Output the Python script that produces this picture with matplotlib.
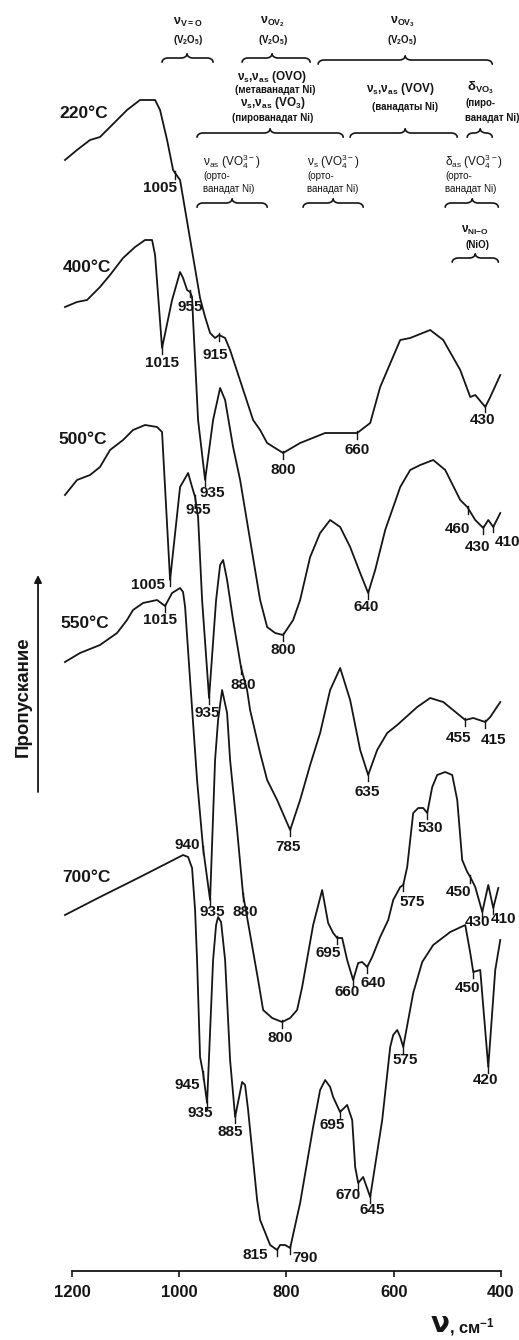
import numpy as np
import matplotlib.pyplot as plt

plt.rcParams['font.family'] = ['Liberation Sans', 'DejaVu Sans']
plt.rcParams['mathtext.default'] = 'regular'

# IR spectra: wavenumber (cm-1) and transmittance (arb. units, curves shifted)
wn_220 = [1213.1, 1190.7, 1166.4, 1147.8, 1129.1, 1097.4, 1073.1, 1045.1, 1035.8, 1022.7,
          1011.5, 1007.8, 998.5, 961.2, 951.8, 942.5, 933.2, 925.7, 914.5, 905.2,
          862.3, 849.2, 836.1, 806.3, 774.6, 727.9, 668.2, 643.9, 625.3, 587.9,
          569.3, 532.0, 507.7, 476.0, 457.3, 448.0, 429.3, 420.0, 401.3]
tr_220 = [111.1, 112.1, 113.1, 113.4, 114.4, 116.1, 117.1, 117.1, 116.1, 113.1,
          110.1, 109.8, 109.1, 97.3, 95.4, 93.8, 93.3, 93.6, 93.3, 92.1,
          85.1, 84.1, 82.8, 81.8, 82.8, 83.8, 83.8, 84.8, 88.4, 93.1,
          93.3, 94.1, 93.1, 90.1, 87.4, 87.6, 86.4, 87.4, 89.6]

wn_400 = [1213.1, 1190.7, 1172.0, 1147.8, 1129.1, 1104.8, 1082.4, 1063.8, 1050.7, 1045.1,
          1032.1, 1013.4, 998.5, 992.9, 985.4, 979.8, 976.1, 974.2, 964.9, 951.8,
          936.9, 923.8, 914.5, 899.6, 886.5, 867.9, 849.2, 836.1, 821.2, 806.3,
          787.6, 774.6, 755.9, 737.3, 718.6, 699.9, 681.3, 662.6, 647.7, 634.6,
          615.9, 587.9, 569.3, 550.6, 526.4, 504.0, 476.0, 462.9, 448.0, 433.1,
          423.7, 414.4, 401.3]
tr_400 = [96.4, 96.9, 97.1, 98.4, 99.6, 101.3, 102.4, 103.1, 103.1, 101.6,
          92.3, 97.1, 99.9, 99.3, 98.1, 97.9, 97.4, 95.1, 85.1, 79.1,
          85.1, 88.3, 87.1, 82.4, 79.1, 73.1, 67.1, 64.4, 63.8, 63.6,
          65.1, 67.1, 71.4, 73.8, 75.1, 74.4, 72.4, 69.8, 67.8, 70.1,
          74.1, 78.4, 80.1, 80.6, 81.1, 80.1, 77.1, 76.4, 75.1, 74.3,
          75.1, 74.4, 75.8]

wn_500 = [1213.1, 1190.7, 1166.4, 1147.8, 1129.1, 1104.8, 1086.2, 1063.8, 1041.4, 1032.1,
          1017.1, 998.5, 983.5, 976.1, 970.5, 964.9, 957.4, 944.4, 931.3, 923.8,
          918.2, 910.8, 899.6, 884.6, 873.5, 867.9, 849.2, 836.1, 817.5, 793.2,
          774.6, 755.9, 737.3, 718.6, 699.9, 681.3, 662.6, 647.7, 630.9, 612.2,
          593.5, 556.2, 532.0, 507.7, 466.6, 451.7, 429.3, 420.0, 401.3]
tr_500 = [77.6, 79.1, 79.6, 80.4, 82.1, 83.1, 84.1, 84.6, 84.4, 83.9,
          69.1, 78.4, 79.8, 78.4, 77.4, 75.4, 67.1, 57.3, 67.1, 70.6,
          71.1, 69.1, 65.1, 60.3, 58.1, 56.1, 51.8, 49.1, 47.1, 44.1,
          47.1, 50.6, 53.8, 58.1, 60.3, 57.1, 52.1, 49.6, 52.1, 53.8,
          54.6, 56.4, 57.3, 56.9, 55.1, 55.3, 54.9, 55.4, 56.9]

wn_550 = [1213.1, 1185.1, 1147.8, 1116.0, 1097.4, 1086.2, 1067.5, 1041.4, 1026.5, 1013.4,
          998.5, 992.9, 989.1, 979.8, 966.8, 955.6, 942.5, 933.2, 927.6, 920.1,
          910.8, 905.2, 892.1, 880.9, 871.6, 852.9, 843.6, 826.8, 808.1, 793.2,
          780.2, 770.8, 750.3, 733.5, 722.3, 713.0, 705.5, 696.2, 686.9, 675.7,
          666.3, 658.9, 649.5, 640.2, 625.3, 610.3, 601.0, 587.9, 582.3, 574.9,
          569.3, 563.7, 554.4, 545.0, 537.6, 528.2, 518.9, 504.0, 490.9, 481.6,
          472.3, 462.9, 457.3, 448.0, 434.9, 423.7, 414.4, 405.0]
tr_550 = [60.9, 61.8, 62.6, 63.8, 65.1, 66.1, 66.8, 67.1, 66.5, 67.8,
          68.3, 67.9, 66.4, 59.1, 49.1, 42.3, 37.1, 51.1, 55.1, 58.1,
          55.8, 51.1, 44.1, 37.6, 34.8, 29.1, 26.1, 25.3, 24.9, 25.3,
          26.1, 28.4, 34.6, 38.1, 34.8, 33.8, 33.3, 33.3, 31.1, 29.1,
          30.8, 30.9, 30.4, 31.4, 33.4, 35.1, 37.1, 38.4, 38.6, 40.4,
          43.1, 45.8, 46.3, 46.3, 45.8, 48.4, 49.6, 49.9, 49.6, 47.1,
          41.1, 39.9, 39.4, 38.4, 35.9, 38.6, 36.3, 38.3]

wn_700 = [1213.1, 1147.8, 1073.1, 992.9, 983.5, 976.1, 970.5, 966.8, 961.2, 955.6,
          948.1, 936.9, 931.3, 927.6, 922.0, 914.5, 905.2, 895.8, 882.8, 877.2,
          871.6, 854.8, 849.2, 830.5, 817.5, 811.9, 802.5, 793.2, 774.6, 750.3,
          737.3, 727.9, 718.6, 713.0, 700.1, 686.9, 677.5, 671.9, 666.3, 657.0,
          643.9, 621.5, 606.6, 601.0, 593.5, 587.9, 582.3, 573.0, 563.7, 546.9,
          526.4, 494.6, 466.6, 457.3, 451.7, 438.7, 423.7, 410.7, 401.3]
tr_700 = [35.6, 37.4, 39.4, 41.6, 41.4, 40.3, 36.1, 31.1, 21.4, 19.8,
          16.8, 31.1, 34.6, 35.4, 34.9, 31.1, 21.1, 15.4, 18.9, 18.6,
          16.1, 7.1, 5.1, 2.6, 2.1, 2.6, 2.6, 2.3, 6.8, 14.4,
          18.1, 19.1, 18.4, 17.4, 15.9, 16.6, 15.1, 10.4, 8.8, 9.4,
          7.4, 15.1, 22.4, 23.6, 24.1, 23.4, 22.4, 25.1, 27.8, 30.9,
          32.6, 33.9, 34.6, 31.8, 29.9, 30.1, 20.4, 30.1, 33.1]

temps = ['220°C', '400°C', '500°C', '550°C', '700°C']
temp_wn = [1177.6, 1172.0, 1179.5, 1175.7, 1173.9]
temp_tr = [115.8, 100.4, 83.1, 64.8, 39.4]

# band labels: text, wavenumber of the marked point
lab_220 = ['1005', '915', '800', '660', '430']
at_220 = [1007.8, 925.7, 806.3, 668.2, 429.3]
lab_400 = ['1015', '955', '935', '800', '640', '460', '430', '410']
at_400 = [1032.1, 979.8, 951.8, 806.3, 647.7, 461.0, 433.1, 414.4]
lab_500 = ['1005', '955', '935', '880', '785', '635', '455', '415']
at_500 = [1017.1, 970.5, 944.4, 884.6, 793.2, 647.7, 466.6, 429.3]
lab_550 = ['1015', '940', '935', '880', '800', '695', '660', '640', '575', '530', '450', '430', '410']
at_550 = [1026.5, 955.6, 942.5, 880.9, 808.1, 705.5, 675.7, 649.5, 582.3, 537.6, 457.3, 434.9, 414.4]
lab_700 = ['945', '935', '885', '815', '790', '695', '670', '645', '575', '450', '420']
at_700 = [955.6, 948.1, 895.8, 817.5, 793.2, 700.1, 666.3, 643.9, 582.3, 451.7, 423.7]

# label offsets from the marked point, in pixels (right, down)
off_220 = [(-15, 15), (-4, 20), (0, 17), (0, 17), (-3, 13)]
off_400 = [(0, 15), (0, 15), (7, 13), (0, 15), (-2, 14), (-11, 20), (-6, 19), (14, 15)]
off_500 = [(-22, 5), (3, 13), (-2, 15), (2, 17), (-2, 17), (-1, 17), (-7, 18), (8, 18)]
off_550 = [(-5, 14), (-16, -3), (2, 12), (2, 17), (-2, 16), (-9, 15), (-6, 12), (6, 16),
           (9, 17), (3, 15), (-12, 15), (-5, 10), (10, 11)]
off_700 = [(-16, 12), (-7, 10), (-5, 15), (-22, 5), (15, 10), (-8, 13), (-10, 12), (2, 13),
           (2, 13), (-6, 16), (-3, 13)]

# assignment braces: left / right / middle wavenumber, level
br_left = [1032.1, 882.8, 741.0, 966.8, 681.3, 462.9, 966.8, 769.0, 504.0, 490.9]
br_right = [936.9, 755.9, 416.3, 694.3, 481.6, 416.3, 836.1, 657.0, 405.0, 405.0]
br_mid = [985.4, 826.8, 578.6, 830.5, 578.6, 438.7, 901.4, 713.0, 453.6, 448.0]
br_level = [121.3, 121.3, 121.1, 113.8, 113.8, 113.8, 106.8, 106.8, 106.8, 101.3]

INK = '#151515'


def brace(ax, vl, vr, vm, y, rx=11.0, ry=0.42):
    d = np.sign(vr - vl)
    t = np.linspace(0, np.pi / 2, 10)
    xs, ys = [], []
    a = np.pi - t
    xs += list(vl + d * rx + d * rx * np.cos(a)); ys += list(y - ry + ry * np.sin(a))
    a = -np.pi / 2 + t
    xs += list(vm - d * rx + d * rx * np.cos(a)); ys += list(y + ry + ry * np.sin(a))
    a = np.pi + t
    xs += list(vm + d * rx + d * rx * np.cos(a)); ys += list(y + ry + ry * np.sin(a))
    a = np.pi / 2 - t
    xs += list(vr - d * rx + d * rx * np.cos(a)); ys += list(y - ry + ry * np.sin(a))
    ax.plot(xs, ys, color=INK, lw=1.2, solid_capstyle='round')


fig = plt.figure(figsize=(5.19, 13.40), dpi=100)
ax = fig.add_axes([0, 0, 1, 1])
ax.set_xlim(1334.3, 366.4)
ax.set_ylim(-6.9, 127.1)

curves = [(wn_220, tr_220, lab_220, at_220, off_220),
          (wn_400, tr_400, lab_400, at_400, off_400),
          (wn_500, tr_500, lab_500, at_500, off_500),
          (wn_550, tr_550, lab_550, at_550, off_550),
          (wn_700, tr_700, lab_700, at_700, off_700)]

for wn, tr, labs, ats, offs in curves:
    ax.plot(wn, tr, color=INK, lw=1.3, solid_joinstyle='round')
    for s, v, (dx, dy) in zip(labs, ats, offs):
        y = np.interp(v, wn[::-1], tr[::-1])
        ax.plot([v, v], [y + 0.25, y - 0.55], color=INK, lw=1.0)
        ax.annotate(s, xy=(v, y), xytext=(dx * 0.72, -dy * 0.72), textcoords='offset points',
                    ha='center', va='center', fontsize=11, fontweight='bold', color=INK)

# temperature labels
for name, v, y in zip(temps, temp_wn, temp_tr):
    ax.text(v, y, name, ha='center', va='center', fontsize=12.5, fontweight='bold', color=INK)

# assignments
for vl, vr, vm, y in zip(br_left, br_right, br_mid, br_level):
    brace(ax, vl, vr, vm, y)

tb = dict(color=INK, fontweight='bold', ha='center', va='center')
ax.text(983.5, 124.9, 'ν$_{V{=}O}$', fontsize=9, **tb)
ax.text(983.5, 123.1, '(V$_2$O$_5$)', fontsize=7, **tb)
ax.text(826.8, 124.9, 'ν$_{OV_2}$', fontsize=9, **tb)
ax.text(824.9, 123.1, '(V$_2$O$_5$)', fontsize=7, **tb)
ax.text(584.2, 124.9, 'ν$_{OV_3}$', fontsize=9, **tb)
ax.text(584.2, 123.1, '(V$_2$O$_5$)', fontsize=7, **tb)

ax.text(826.8, 119.4, 'ν$_s$,ν$_{as}$ (OVO)', fontsize=8.5, **tb)
ax.text(821.2, 118.1, '(метаванадат Ni)', fontsize=7, **tb)
ax.text(824.9, 116.8, 'ν$_s$,ν$_{as}$ (VO$_3$)', fontsize=8.5, **tb)
ax.text(824.9, 115.3, '(пированадат Ni)', fontsize=7, **tb)
ax.text(587.9, 118.2, 'ν$_s$,ν$_{as}$ (VOV)', fontsize=8.5, **tb)
ax.text(578.6, 116.4, '(ванадаты Ni)', fontsize=7, **tb)
ax.text(438.7, 118.3, 'δ$_{VO_3}$', fontsize=9.5, **tb)
tl = dict(color=INK, ha='left', va='center')
ax.text(466.6, 116.8, '(пиро-', fontsize=7, fontweight='bold', **tl)
ax.text(466.6, 115.3, 'ванадат Ni)', fontsize=7, fontweight='bold', **tl)

for v, head in zip([955.6, 761.5, 504.0],
                   ['ν$_{as}$ (VO$_4^{3-}$)', 'ν$_s$ (VO$_4^{3-}$)', 'δ$_{as}$ (VO$_4^{3-}$)']):
    ax.text(v, 110.9, head, fontsize=8.5, **tl)
    ax.text(v, 109.5, '(орто-', fontsize=7, **tl)
    ax.text(v, 108.2, 'ванадат Ni)', fontsize=7, **tl)

ax.text(448.0, 104.1, 'ν$_{Ni{-}O}$', fontsize=8.5, **tb)
ax.text(444.3, 102.6, '(NiO)', fontsize=7, **tb)

# axes
for side in ['left', 'right', 'top']:
    ax.spines[side].set_visible(False)
ax.spines['bottom'].set_position(('data', 0))
ax.spines['bottom'].set_bounds(1200, 400)
ax.spines['bottom'].set_linewidth(1.3)
ax.spines['bottom'].set_color(INK)
ax.set_yticks([])
ax.set_xticks([1200, 1000, 800, 600, 400])
ax.tick_params(axis='x', direction='out', length=4, width=1.2, color=INK, pad=6,
               labelsize=12, labelcolor=INK)
for lbl in ax.get_xticklabels():
    lbl.set_fontweight('bold')

ax.text(513.3, -5.3, 'ν', fontsize=20, fontweight='bold', ha='center', va='center',
        color=INK, family='DejaVu Sans')
ax.text(497.0, -5.6, ', см$^{-1}$', fontsize=12, fontweight='bold', ha='left', va='center',
        color=INK)

ax.text(1291.4, 57.4, 'Пропускание', rotation=90, fontsize=13.5, fontweight='bold',
        ha='center', va='center', color=INK)
ax.annotate('', xy=(1263.4, 69.6), xytext=(1263.4, 47.9),
            arrowprops=dict(arrowstyle='-|>', lw=1.3, color=INK, mutation_scale=11,
                            shrinkA=0, shrinkB=0))

fig.savefig('out.png', dpi=100, facecolor='white')
